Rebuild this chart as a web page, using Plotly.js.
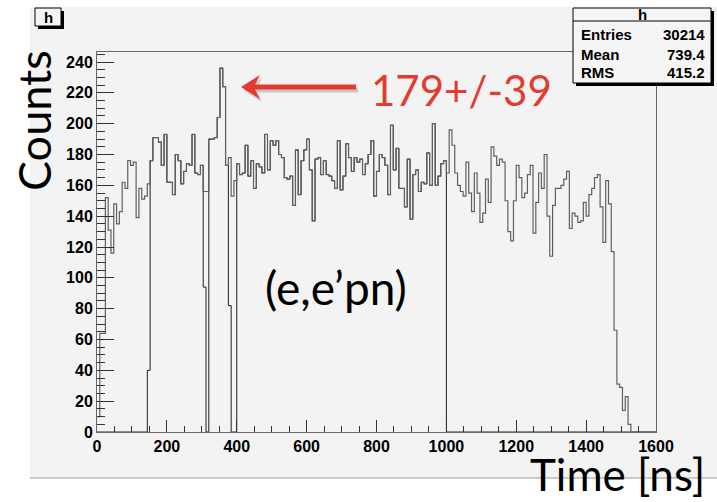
<!DOCTYPE html>
<html><head><meta charset="utf-8">
<script src="https://cdn.plot.ly/plotly-3.0.1.min.js"></script>
<style>html,body{margin:0;padding:0;background:#fff;}#chart{width:717px;height:502px;}</style>
</head><body><div id="chart"></div>
<script>
// Histogram definition
const xMin = 0, xMax = 1600, nBins = 200;
// Bin contents (8 ns bins)
const counts = [
 10, 64, 64, 152, 131, 116, 148, 135, 143, 162, 158, 176, 173, 175, 139, 158, 151, 153, 161, 176, 191, 191, 188, 173, 193, 162, 162, 154, 180, 176, 161, 169, 174,
 173, 193, 168, 167, 173, 156, 156, 190, 190, 191, 204, 236, 224, 173, 178, 153, 163, 174, 167, 168, 186, 166, 176, 158, 174, 172, 168, 193, 170, 189, 186, 189, 180,
 178, 165, 164, 166, 147, 183, 154, 176, 183, 190, 170, 137, 177, 178, 167, 176, 167, 166, 163, 158, 189, 157, 166, 187, 178, 169, 178, 175, 177, 167, 174, 180, 189, 153,
 169, 180, 178, 173, 154, 199, 170, 184, 158, 158, 146, 177, 138, 167, 170, 156, 162, 161, 181, 160, 200, 160, 166, 174, 176, 168, 196, 186, 168, 160, 156, 153, 175,
 155, 143, 168, 155, 136, 142, 164, 149, 185, 179, 173, 177, 175, 150, 130, 124, 150, 173, 165, 152, 155, 167, 173, 129, 149, 168, 158, 180, 140, 114, 147, 158, 158,
 160, 164, 169, 132, 142, 140, 136, 137, 149, 140, 154, 158, 165, 167, 146, 123, 163, 148, 117,
 66, 31, 29, 14, 23, 5, 0, 0, 0, 0, 0, 0, 0, 0, 0
];
// Gated (dark) histogram: full bins inside these windows, partial edge bins below
const gateLow = [152, 320, 400];
const gateHigh = [304, 376, 1000];
const gatePartialBins = [18, 38, 47];
const gatePartialCounts = [40, 94, 82];

const yTicks = [0, 20, 40, 60, 80, 100, 120, 140, 160, 180, 200, 220, 240];
const xTicks = [0, 200, 400, 600, 800, 1000, 1200, 1400, 1600];
const statsTitle = 'h';
const statsLabels = ['Entries', 'Mean', 'RMS'];
const statsValues = ['30214', '739.4', '415.2'];
const peakText = '179+/-39';
const reactionText = '(e,e\u2019pn)';
const xTitle = 'Time [ns]';
const yTitle = 'Counts';

// ---- build
const bw = (xMax - xMin) / nBins;
const edges = [], mainY = [], darkY = [];
for (let i = 0; i <= nBins; i++) edges.push(xMin + i * bw);
for (let i = 0; i < nBins; i++) {
  mainY.push(counts[i]);
  const lo = xMin + i * bw, hi = lo + bw;
  let v = 0;
  for (let g = 0; g < gateLow.length; g++) if (lo >= gateLow[g] && hi <= gateHigh[g]) v = counts[i];
  const p = gatePartialBins.indexOf(i);
  if (p >= 0) v = gatePartialCounts[p];
  darkY.push(v);
}
mainY.push(counts[nBins - 1]);
darkY.push(darkY[nBins - 1]);

const W = 717, H = 502, ML = 97, MR = 61, MT = 52, MB = 70;
const PW = W - ML - MR, PH = H - MT - MB;
const px = x => (x - ML) / PW;
const py = y => (H - MB - y) / PH;

const tickFont = {family: 'Liberation Sans, Arial, sans-serif', size: 16, color: '#000', weight: 'bold'};
const statFont = {family: 'Liberation Sans, Arial, sans-serif', size: 15, color: '#000', weight: 'bold'};
const bigFont = {family: 'Lato, sans-serif', size: 44, color: '#000'};
const red = '#e53b2e';

function rect(x0, y0, x1, y1, fill, line) {
  return {type: 'rect', xref: 'paper', yref: 'paper', x0: px(x0), x1: px(x1), y0: py(y1), y1: py(y0),
    fillcolor: fill, line: line || {width: 0}, layer: 'above'};
}
function pathPx(points, fill) {
  let d = points.map((p, i) => (i ? 'L' : 'M') + px(p[0]) + ',' + py(p[1])).join(' ') + ' Z';
  return {type: 'path', xref: 'paper', yref: 'paper', path: d, fillcolor: fill, line: {width: 0}, layer: 'above'};
}
function arrowPts(dx, dy) {
  const tipX = 241 + dx, cy = 87 + dy;
  return [[tipX, cy], [tipX + 19, cy - 12], [tipX + 14, cy - 2.6], [356 + dx, cy - 2.6], [356 + dx, cy + 2.6], [tipX + 14, cy + 2.6], [tipX + 19, cy + 12]];
}

const shapes = [];
const bg = rect(30, 7, 717, 478, '#f3f3f3');
bg.layer = 'below';
shapes.push(bg);
shapes.push({type: 'line', xref: 'paper', yref: 'paper', x0: px(30), x1: px(717), y0: py(478), y1: py(478), line: {color: '#9a9a9a', width: 1}, layer: 'below'});
// title box
shapes.push(rect(38, 11, 64, 29, '#000'));
shapes.push(rect(35, 8, 61, 26, '#f5f5f5', {color: '#000', width: 1}));
// stats box
shapes.push(rect(576, 11, 714, 86, '#000'));
shapes.push(rect(573, 8, 711, 83, '#f5f5f5', {color: '#000', width: 1}));
shapes.push({type: 'line', xref: 'paper', yref: 'paper', x0: px(573), x1: px(711), y0: py(21), y1: py(21), line: {color: '#000', width: 1}, layer: 'above'});
// arrow with soft shadow
shapes.push(pathPx(arrowPts(2, 3), 'rgba(0,0,0,0.18)'));
shapes.push(pathPx(arrowPts(0, 0), red));

const annotations = [
  {xref: 'paper', yref: 'paper', x: px(48), y: py(17), text: statsTitle, showarrow: false, font: statFont, xanchor: 'center', yanchor: 'middle'},
  {xref: 'paper', yref: 'paper', x: px(642), y: py(14.5), text: statsTitle, showarrow: false, font: statFont, xanchor: 'center', yanchor: 'middle'},
  {xref: 'paper', yref: 'paper', x: px(34), y: py(121), text: yTitle, textangle: -90, showarrow: false, font: Object.assign({}, bigFont, {size: 45}), xanchor: 'center', yanchor: 'middle'},
  {xref: 'paper', yref: 'paper', x: px(617), y: py(474), text: xTitle, showarrow: false, font: bigFont, xanchor: 'center', yanchor: 'middle'},
  {xref: 'paper', yref: 'paper', x: px(336), y: py(287), text: reactionText, showarrow: false, font: Object.assign({}, bigFont, {size: 46}), xanchor: 'center', yanchor: 'middle'},
  {xref: 'paper', yref: 'paper', x: px(461), y: py(90), text: peakText, showarrow: false, font: Object.assign({}, bigFont, {size: 42, color: red}), xanchor: 'center', yanchor: 'middle'}
];
const rowY = [35, 54, 73];
statsLabels.forEach((s, i) => {
  annotations.push({xref: 'paper', yref: 'paper', x: px(579), y: py(rowY[i]), text: s, showarrow: false, font: statFont, xanchor: 'left', yanchor: 'middle'});
  annotations.push({xref: 'paper', yref: 'paper', x: px(707), y: py(rowY[i]), text: statsValues[i], showarrow: false, font: statFont, xanchor: 'right', yanchor: 'middle'});
});

const traces = [
  {x: edges, y: darkY, type: 'scatter', mode: 'lines', line: {shape: 'hv', color: '#1e1e1e', width: 1}, hoverinfo: 'skip'},
  {x: edges, y: mainY, type: 'scatter', mode: 'lines', line: {shape: 'hv', color: '#606060', width: 1.2}, hoverinfo: 'skip'}
];

const layout = {
  width: W, height: H,
  margin: {l: ML, r: MR, t: MT, b: MB, pad: 0},
  paper_bgcolor: '#ffffff', plot_bgcolor: 'rgba(0,0,0,0)',
  showlegend: false,
  xaxis: {range: [xMin, xMax], tickvals: xTicks, ticktext: xTicks.map(String), ticks: 'inside', ticklen: 12, tickcolor: '#333', tickwidth: 1,
    showline: true, linecolor: '#666', linewidth: 1, mirror: true, showgrid: false, zeroline: false, tickfont: tickFont,
    minor: {ticks: 'inside', ticklen: 6, dtick: 50, tick0: 0, tickcolor: '#333', showgrid: false}},
  yaxis: {range: [0, 246.5], tickvals: yTicks, ticktext: yTicks.map(String), ticks: 'inside', ticklen: 17, tickcolor: '#333', tickwidth: 1,
    showline: true, linecolor: '#666', linewidth: 1, mirror: true, showgrid: false, zeroline: false, tickfont: tickFont,
    minor: {ticks: 'inside', ticklen: 8, dtick: 5, tick0: 0, tickcolor: '#333', showgrid: false}},
  shapes: shapes,
  annotations: annotations
};
Plotly.newPlot('chart', traces, layout, {displayModeBar: false, staticPlot: true});
</script></body></html>
